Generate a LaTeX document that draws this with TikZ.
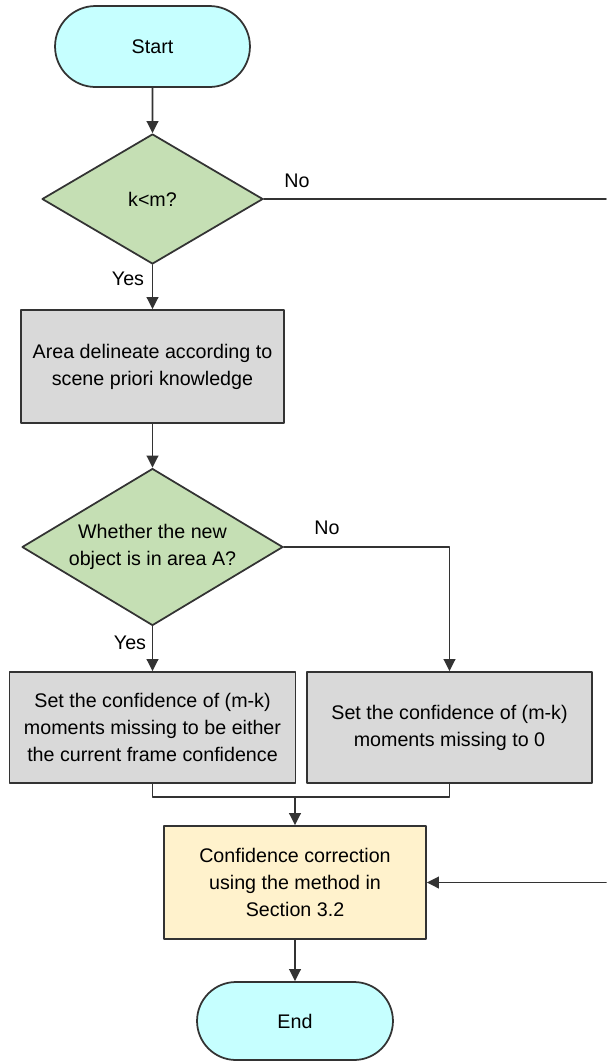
\documentclass[tikz,border=0pt]{standalone}
\usepackage{fontspec}
\setmainfont{Liberation Sans}
\usetikzlibrary{arrows.meta,shapes.geometric,shapes.misc}
\definecolor{termcyan}{HTML}{C6FFFF}
\definecolor{decgreen}{HTML}{C5DFB4}
\definecolor{procgray}{HTML}{D9D9D9}
\definecolor{corryellow}{HTML}{FFF2CC}
\definecolor{edgegray}{HTML}{333333}

\tikzset{
	base/.style={draw=edgegray,line width=1pt,align=center,inner sep=2pt,font=\fontsize{11.2}{15.4}\selectfont},
	terminal/.style={base,rounded rectangle,fill=termcyan},
	decision/.style={base,diamond,fill=decgreen,inner sep=0pt,aspect=1.7},
	process/.style={base,rectangle,fill=procgray},
	link/.style={draw=edgegray,line width=1pt},
	flow/.style={link,-{Triangle[length=6.8pt,width=6.6pt]}},
	answer/.style={font=\fontsize{11.2}{13}\selectfont,inner sep=1pt}
}

\begin{document}
\begin{tikzpicture}[line cap=round,line join=round,x=0.02cm,y=-0.02cm]
	\useasboundingbox (0,0) rectangle (606,1063);
	% boxes
	\node[terminal,minimum width=4.04cm,minimum height=1.62cm] (start) at (152.5,46.5) {Start};
	\node[decision,minimum width=4.42cm,minimum height=2.6cm] (test1) at (152.5,199) {k<m?};
	\node[process,minimum width=5.26cm,minimum height=2.26cm] (area) at (152.5,366.5) {Area delineate according to\\scene priori knowledge};
	\node[decision,minimum width=5.22cm,minimum height=3.14cm] (test2) at (152.5,547) {Whether the new\\object is in area A?};
	\node[process,minimum width=5.72cm,minimum height=2.22cm] (setcur) at (152.5,727.5) {Set the confidence of (m-k)\\moments missing to be either\\the current frame confidence};
	\node[process,minimum width=5.7cm,minimum height=2.22cm] (setzero) at (449.5,727.5) {Set the confidence of (m-k)\\moments missing to 0};
	\node[process,fill=corryellow,minimum width=5.24cm,minimum height=2.26cm] (corr) at (295,882.5) {Confidence correction\\using the method in\\Section 3.2};
	\node[terminal,minimum width=4.06cm,minimum height=1.56cm] (finish) at (295,1021) {End};
	% free ends at the border
	\coordinate (skipout) at (606,199);
	\coordinate (skipin) at (606,882.5);
	\coordinate (merge) at (295,797);
	% connectors
	\draw[flow] (start) -- (test1);
	\draw[link] (test1.east) -- (skipout);
	\draw[flow] (test1) -- (area);
	\draw[flow] (area) -- (test2);
	\draw[flow] (test2.east) -| (setzero.north);
	\draw[flow] (test2) -- (setcur);
	\draw[link] (setcur.south) |- (merge) -| (setzero.south);
	\draw[flow] (merge) -- (corr);
	\draw[flow] (skipin) -- (corr.east);
	\draw[flow] (corr) -- (finish);
	% labels
	\node[answer] (no1) at (297,181) {No};
	\node[answer] (yes1) at (128,279) {Yes};
	\node[answer] (no2) at (327,528) {No};
	\node[answer] (yes2) at (130,643) {Yes};
\end{tikzpicture}
\end{document}
